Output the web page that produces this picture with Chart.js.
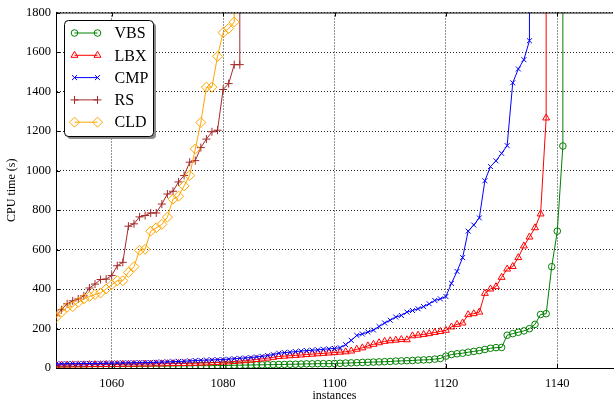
<!DOCTYPE html>
<html><head><meta charset="utf-8">
<script src="https://cdn.jsdelivr.net/npm/chart.js@4"></script>
<style>
html,body{margin:0;padding:0;overflow:hidden;background:#fff;width:616px;height:404px}
#wrap{width:619px;height:404px;position:relative}
</style></head>
<body><div id="wrap"><canvas id="c"></canvas></div>
<script>
// first instance index of every series below
const START = 1049;
// time-out value reached at the end of each series (vertical line)
const TIMEOUT = 3600;

const seriesNames = ['VBS', 'LBX', 'CMP', 'RS', 'CLD'];

const vbs = [6,
  6,6,7,7,7,7,7,8,8,8,
  8,8,9,9,9,9,9,10,10,10,
  10,11,11,11,11,12,12,12,12,13,
  13,13,14,14,15,15,16,16,17,17,
  18,18,19,19,20,21,21,22,22,22,
  23,24,25,26,27,28,29,30,31,32,
  33,35,36,37,38,40,41,42,45,48,
  60,68,72,75,80,84,88,94,100,103,
  104,166,174,181,188,199,221,271,275,513,693,1124];

const lbx = [14,
  15,15,15,16,16,16,17,17,17,18,
  18,18,19,19,19,20,20,20,21,21,
  22,22,23,23,24,24,25,26,27,28,
  30,31,33,35,37,40,43,46,50,54,
  58,60,62,64,66,68,70,72,74,76,
  78,80,82,86,95,102,112,120,128,135,
  138,141,144,143,163,166,170,174,180,185,
  191,208,221,228,270,275,283,378,400,412,
  459,501,514,559,618,663,710,780,1266];

const cmp = [20,
  21,21,22,22,22,23,23,23,24,24,
  25,25,26,26,27,27,28,28,29,30,
  31,32,33,34,36,38,39,40,41,42,
  43,45,47,49,51,53,56,59,63,68,
  75,78,80,83,86,88,90,92,95,97,
  99,103,118,140,165,172,182,192,210,228,
  242,258,266,283,291,300,311,325,342,350,
  362,429,489,559,693,724,760,948,1020,1049,
  1087,1126,1444,1514,1561,1657];

const rs = [245,
  265,295,325,340,350,365,405,425,448,450,
  468,518,535,718,730,765,772,785,785,830,
  881,895,942,975,1042,1050,1116,1159,1196,1204,
  1410,1440,1536,1536];

const cld = [235,
  255,283,308,311,333,350,362,372,380,400,
  422,442,442,484,513,596,601,693,710,727,
  764,855,870,922,975,1109,1243,1422,1422,1578,
  1698,1719,1752];

const xTicks = [1060, 1080, 1100, 1120, 1140];
const yTicks = [0, 200, 400, 600, 800, 1000, 1200, 1400, 1600, 1800];

function toPoints(vals) {
  const pts = vals.map((v, i) => ({x: START + i, y: v}));
  pts.push({x: START + vals.length - 1, y: TIMEOUT});
  return pts;
}

const styles = {
  VBS: {color: '#008000', point: 'circle', r: 3.3},
  LBX: {color: '#ff0000', point: 'triangle', r: 4},
  CMP: {color: '#0000ff', point: 'crossRot', r: 3.5},
  RS:  {color: '#a52a2a', point: 'cross', r: 4},
  CLD: {color: '#ffa500', point: 'rectRot', r: 5}
};
const seriesData = {VBS: vbs, LBX: lbx, CMP: cmp, RS: rs, CLD: cld};

const datasets = seriesNames.map((n, i) => ({
  label: n,
  data: toPoints(seriesData[n]),
  borderColor: styles[n].color,
  backgroundColor: 'rgba(0,0,0,0)',
  borderWidth: 1,
  pointStyle: styles[n].point,
  pointRadius: styles[n].r,
  pointBorderColor: styles[n].color,
  pointBackgroundColor: 'rgba(0,0,0,0)',
  pointBorderWidth: 1,
  tension: 0,
  order: seriesNames.length - i
}));

const FONT = "'Liberation Serif', 'DejaVu Serif', serif";

const framePlugin = {
  id: 'frame',
  afterDraw(chart) {
    const ctx = chart.ctx, a = chart.chartArea;
    const xs = chart.scales.x, ys = chart.scales.y;
    ctx.save();
    ctx.strokeStyle = '#000';
    ctx.lineWidth = 1;
    ctx.beginPath();
    ctx.moveTo(a.left, a.top + 0.5);
    ctx.lineTo(a.right, a.top + 0.5);
    xTicks.forEach(v => {
      const px = Math.round(xs.getPixelForValue(v)) + 0.5;
      ctx.moveTo(px, a.bottom); ctx.lineTo(px, a.bottom - 4);
      ctx.moveTo(px, a.top); ctx.lineTo(px, a.top + 4);
    });
    yTicks.forEach(v => {
      const py = Math.round(ys.getPixelForValue(v)) + 0.5;
      ctx.moveTo(a.left, py); ctx.lineTo(a.left + 4, py);
    });
    ctx.stroke();

    // legend
    const bx = a.left + 8.5, by = a.top + 8, bw = 89, bh = 116;
    const rr = (x, y, w, h, r) => {
      ctx.beginPath();
      ctx.moveTo(x + r, y);
      ctx.lineTo(x + w - r, y); ctx.quadraticCurveTo(x + w, y, x + w, y + r);
      ctx.lineTo(x + w, y + h - r); ctx.quadraticCurveTo(x + w, y + h, x + w - r, y + h);
      ctx.lineTo(x + r, y + h); ctx.quadraticCurveTo(x, y + h, x, y + h - r);
      ctx.lineTo(x, y + r); ctx.quadraticCurveTo(x, y, x + r, y);
      ctx.closePath();
    };
    rr(bx + 2.5, by + 2.5, bw, bh, 4);
    ctx.fillStyle = '#8c8c8c';
    ctx.fill();
    rr(bx, by, bw, bh, 4);
    ctx.fillStyle = '#fff';
    ctx.fill();
    ctx.strokeStyle = '#000';
    ctx.lineWidth = 1;
    ctx.stroke();

    ctx.font = "16px " + FONT;
    ctx.textBaseline = 'middle';
    ctx.textAlign = 'left';
    seriesNames.forEach((n, i) => {
      const y = by + 12.5 + i * 22.3;
      const x1 = bx + 10, x2 = bx + 33;
      const st = styles[n];
      ctx.strokeStyle = st.color;
      ctx.lineWidth = 1;
      ctx.beginPath(); ctx.moveTo(x1, y); ctx.lineTo(x2, y); ctx.stroke();
      [x1, x2].forEach(px => {
        ctx.strokeStyle = st.color;
        ctx.fillStyle = 'rgba(0,0,0,0)';
        ctx.lineWidth = 1;
        Chart.helpers.drawPoint(ctx, {pointStyle: st.point, radius: st.r, borderWidth: 1, rotation: 0}, px, y);
      });
      ctx.fillStyle = '#000';
      ctx.fillText(n, bx + 50, y + 1);
    });
    ctx.restore();
  }
};

new Chart(document.getElementById('c'), {
  type: 'line',
  data: {datasets},
  options: {
    responsive: true,
    maintainAspectRatio: false,
    animation: false,
    layout: {padding: {top: 10, right: 0, left: 0, bottom: 0}},
    plugins: {legend: {display: false}, tooltip: {enabled: false}},
    scales: {
      x: {
        type: 'linear', min: 1050, max: 1150,
        afterBuildTicks: s => { s.ticks = xTicks.map(v => ({value: v})); },
        afterFit: s => { s.height = 36; },
        grid: {color: 'rgba(0,0,0,0.85)', lineWidth: 1, drawTicks: false},
        border: {display: true, color: '#000', width: 1, dash: [1, 2]},
        ticks: {color: '#000', font: {family: FONT, size: 12.5}, padding: 8, maxRotation: 0,
                callback: v => String(v)},
        title: {display: true, text: 'instances', color: '#000', font: {family: FONT, size: 12}, padding: {top: 0, bottom: 1}}
      },
      y: {
        type: 'linear', min: 0, max: 1800,
        afterBuildTicks: s => { s.ticks = yTicks.map(v => ({value: v})); },
        afterFit: s => { s.width = 56; },
        grid: {color: 'rgba(0,0,0,0.85)', lineWidth: 1, drawTicks: false},
        border: {display: true, color: '#000', width: 1, dash: [1, 2]},
        ticks: {color: '#000', font: {family: FONT, size: 12.5}, padding: 5,
                callback: v => String(v)},
        title: {display: true, text: 'CPU time (s)', color: '#000', font: {family: FONT, size: 12}, padding: {top: 5, bottom: 0}}
      }
    }
  },
  plugins: [framePlugin]
});
</script>
</body></html>
